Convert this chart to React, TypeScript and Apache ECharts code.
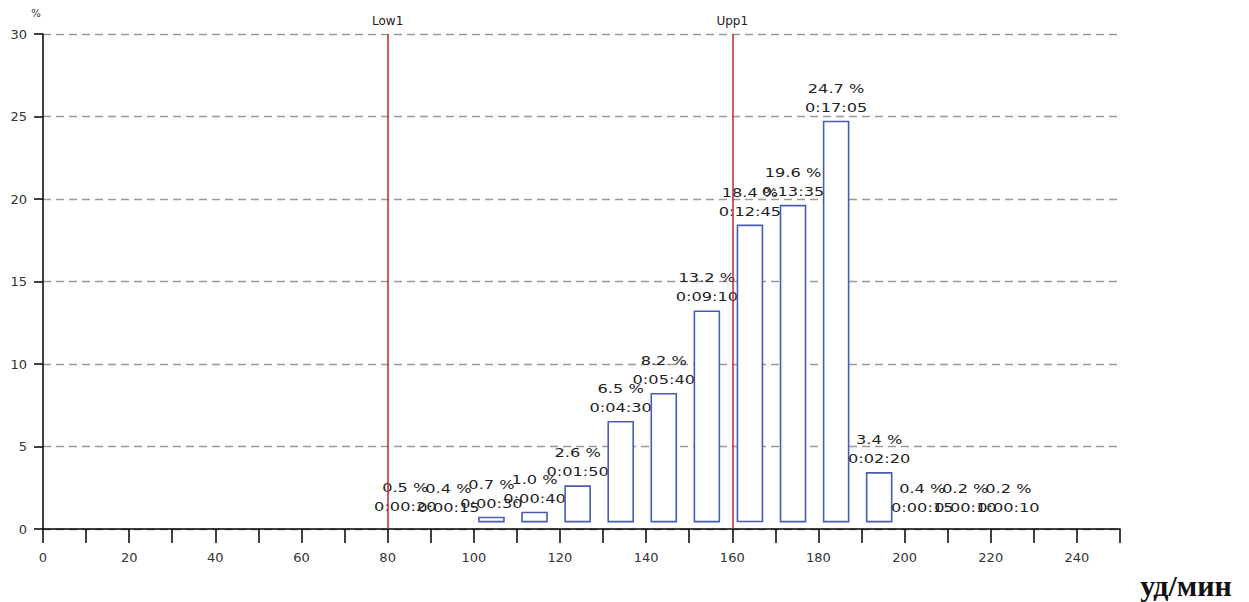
import React, { useEffect, useRef } from 'react';
import * as echarts from 'echarts';

// Heart-rate bins (start of each 10 bpm bin)
const binStarts = [80, 90, 100, 110, 120, 130, 140, 150, 160, 170, 180, 190, 200, 210, 220];
// Share of time in each bin, %
const percents = [0.5, 0.4, 0.7, 1.0, 2.6, 6.5, 8.2, 13.2, 18.4, 19.6, 24.7, 3.4, 0.4, 0.2, 0.2];
// Time spent in each bin
const durations = [
  '0:00:20', '0:00:15', '0:00:30', '0:00:40', '0:01:50', '0:04:30', '0:05:40',
  '0:09:10', '0:12:45', '0:13:35', '0:17:05', '0:02:20', '0:00:15', '0:00:10', '0:00:10',
];
// Limit lines
const limitNames = ['Low1', 'Upp1'];
const limitValues = [80, 160];

const BAR_BASE = 0.45;
const LABEL_FONT = '12px "DejaVu Sans"';

function txt(x: number, y: number, text: string, font: string, fill: string, scaleX = 1) {
  return {
    type: 'text',
    x,
    y,
    scaleX,
    style: {
      text,
      font,
      fill,
      textFill: fill,
      align: 'center',
      verticalAlign: 'middle',
      textAlign: 'center',
      textVerticalAlign: 'middle',
    },
  };
}

export default function App() {
  const ref = useRef<HTMLDivElement>(null);

  useEffect(() => {
    if (!ref.current) return;
    const chart = echarts.init(ref.current, undefined, { renderer: 'svg' });
    const data = binStarts.map((b, i) => [b, percents[i]]);

    const option: any = {
      animation: false,
      backgroundColor: '#ffffff',
      grid: { left: 43, right: 129, top: 34, bottom: 73, containLabel: false },
      xAxis: {
        type: 'value',
        min: 0,
        max: 250,
        interval: 10,
        axisLine: { show: true, onZero: true, lineStyle: { color: '#000', width: 1.5 } },
        axisTick: { show: true, length: 14, lineStyle: { color: '#000', width: 1.5 } },
        axisLabel: {
          formatter: (v: number) => (v % 20 === 0 ? String(v) : ''),
          margin: 22,
          fontSize: 13,
          fontFamily: 'DejaVu Sans',
          color: '#333',
        },
        splitLine: { show: false },
      },
      yAxis: {
        type: 'value',
        min: 0,
        max: 30,
        interval: 5,
        axisLine: { show: true, lineStyle: { color: '#000', width: 1.5 } },
        axisTick: { show: true, length: 9, lineStyle: { color: '#000', width: 1.5 } },
        axisLabel: { margin: 16, fontSize: 13, fontFamily: 'DejaVu Sans', color: '#333' },
        splitLine: { show: true, lineStyle: { color: '#9a9a9a', width: 1.3, type: [8, 5] } },
      },
      graphic: [
        {
          type: 'text',
          x: 36,
          y: 13,
          style: {
            text: '%', font: '10px "DejaVu Sans"', fill: '#333',
            align: 'center', verticalAlign: 'middle', textAlign: 'center', textVerticalAlign: 'middle',
          },
        },
        {
          type: 'text',
          x: 1186,
          y: 585,
          style: {
            text: 'уд/мин', font: 'bold 30px "Liberation Serif"', fill: '#111',
            align: 'center', verticalAlign: 'middle', textAlign: 'center', textVerticalAlign: 'middle',
          },
        },
      ],
      series: [
        {
          type: 'custom',
          clip: false,
          encode: { x: 0, y: 1 },
          data,
          renderItem: (params: any, api: any) => {
            const x = api.value(0) as number;
            const v = api.value(1) as number;
            const i = params.dataIndex;
            const topV = Math.max(v, BAR_BASE);
            const c = api.coord([x + 4.1, topV]);
            const children: any[] = [
              txt(c[0], c[1] - 33, `${v.toFixed(1)} %`, LABEL_FONT, '#222', 1.35),
              txt(c[0], c[1] - 14, durations[i], LABEL_FONT, '#222', 1.35),
            ];
            if (v - BAR_BASE > 0.1) {
              const p0 = api.coord([x + 1.2, BAR_BASE]);
              const p1 = api.coord([x + 7.0, v]);
              children.push({
                type: 'rect',
                shape: { x: p0[0], y: p1[1], width: p1[0] - p0[0], height: p0[1] - p1[1] },
                style: { fill: '#ffffff', stroke: '#4a5cb0', lineWidth: 1.6 },
              });
            }
            return { type: 'group', children };
          },
          markLine: {
            silent: true,
            symbol: 'none',
            animation: false,
            lineStyle: { color: '#c0282d', width: 1.5, type: 'solid' },
            label: {
              position: 'end',
              formatter: '{b}',
              color: '#222',
              fontSize: 12,
              fontFamily: 'DejaVu Sans',
              distance: 7,
            },
            emphasis: { disabled: true },
            data: limitValues.map((val, k) => ({ name: limitNames[k], xAxis: val })),
          },
        },
      ],
    };

    chart.setOption(option);
    return () => chart.dispose();
  }, []);

  return (
    <div
      ref={ref}
      style={{ position: 'fixed', left: 0, top: 0, width: 1249, height: 602, background: '#fff' }}
    />
  );
}
